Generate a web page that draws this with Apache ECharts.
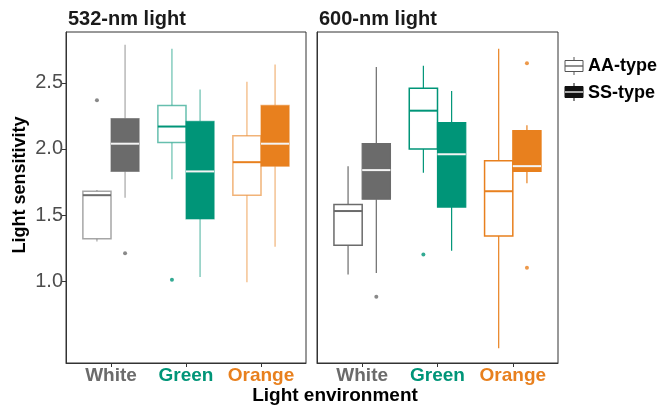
<!DOCTYPE html>
<html>
<head>
<meta charset="utf-8">
<script src="https://cdn.jsdelivr.net/npm/echarts@6/dist/echarts.min.js"></script>
<style>
html,body{margin:0;padding:0;background:#fff;}
#c{width:664px;height:406px;}
</style>
</head>
<body>
<div id="c"></div>
<script>
// ---- data ----
const categories = ['White', 'Green', 'Orange'];
const panelTitles = ['532-nm light', '600-nm light'];
const typeNames = ['AA-type', 'SS-type'];
const yTicks = [1.0, 1.5, 2.0, 2.5];
// each row: [min, Q1, median, Q3, max] per category
const aa532 = [[1.30, 1.32, 1.65, 1.68, 1.69], [1.77, 2.05, 2.17, 2.33, 2.76], [0.99, 1.65, 1.90, 2.10, 2.51]];
const ss532 = [[1.63, 1.83, 2.04, 2.23, 2.79], [1.03, 1.47, 1.83, 2.21, 2.45], [1.26, 1.87, 2.04, 2.33, 2.64]];
const aa600 = [[1.05, 1.27, 1.53, 1.58, 1.87], [1.82, 2.00, 2.29, 2.46, 2.63], [0.49, 1.34, 1.68, 1.91, 2.76]];
const ss600 = [[1.06, 1.62, 1.84, 2.04, 2.62], [1.23, 1.56, 1.96, 2.20, 2.44], [1.74, 1.83, 1.87, 2.14, 2.18]];
// outliers: [category index, value]
const aa532Out = [[0, 2.37], [1, 1.01]];
const ss532Out = [[0, 1.21]];
const aa600Out = [[1, 1.20]];
const ss600Out = [[0, 0.88], [2, 2.65], [2, 1.10]];

// ---- styling ----
const colors = ['#6b6b6b', '#009578', '#e8801e'];
const FONT = 'Liberation Sans, Arial, sans-serif';
const DODGE = 0.1875, BOXW = 0.375;

function fade(hex, a) {
  const r = parseInt(hex.slice(1, 3), 16), g = parseInt(hex.slice(3, 5), 16), b = parseInt(hex.slice(5, 7), 16);
  return 'rgba(' + r + ',' + g + ',' + b + ',' + a + ')';
}

function boxSeries(stats, gridIdx, dodge, filled, strokeAlpha) {
  return {
    type: 'custom',
    xAxisIndex: gridIdx, yAxisIndex: gridIdx,
    encode: { x: 0, y: [1, 2, 3, 4, 5] },
    data: stats.map((s, i) => [i + 1].concat(s)),
    renderItem: function (params, api) {
      const ci = api.value(0) - 1;
      const x = api.value(0) + dodge;
      const c = colors[ci];
      const w = api.size([BOXW, 0])[0];
      const pMin = api.coord([x, api.value(1)]);
      const pQ1 = api.coord([x, api.value(2)]);
      const pMed = api.coord([x, api.value(3)]);
      const pQ3 = api.coord([x, api.value(4)]);
      const pMax = api.coord([x, api.value(5)]);
      const cx = pMed[0];
      const line = fade(c, strokeAlpha);
      const children = [
        { type: 'line', shape: { x1: cx, y1: pMax[1], x2: cx, y2: pQ3[1] }, style: { stroke: line, lineWidth: 1.2 } },
        { type: 'line', shape: { x1: cx, y1: pQ1[1], x2: cx, y2: pMin[1] }, style: { stroke: line, lineWidth: 1.2 } },
        { type: 'rect', shape: { x: cx - w / 2, y: pQ3[1], width: w, height: pQ1[1] - pQ3[1] },
          style: filled ? { fill: c, stroke: line, lineWidth: 1.2 } : { fill: '#fff', stroke: line, lineWidth: 1.5 } },
        { type: 'line', shape: { x1: cx - w / 2, y1: pMed[1], x2: cx + w / 2, y2: pMed[1] },
          style: { stroke: filled ? '#f4f4f4' : c, lineWidth: 2 } }
      ];
      return { type: 'group', children: children };
    },
    z: 2
  };
}

function outlierSeries(pts, gridIdx, dodge) {
  return {
    type: 'scatter',
    xAxisIndex: gridIdx, yAxisIndex: gridIdx,
    symbolSize: 4,
    data: pts.map(p => ({ value: [p[0] + 1 + dodge, p[1]], itemStyle: { color: colors[p[0]] } })),
    z: 3
  };
}

const grids = [
  { left: 66, top: 32, width: 240, height: 331 },
  { left: 317, top: 32, width: 241, height: 331 }
];

const rich = {};
categories.forEach((c, i) => { rich['c' + i] = { color: colors[i], fontWeight: 'bold', fontSize: 19, fontFamily: FONT }; });

const xAxes = grids.map((g, i) => ({
  type: 'value', gridIndex: i, min: 0.4, max: 3.6,
  splitLine: { show: false },
  axisLine: { show: true, onZero: false, lineStyle: { color: '#333', width: 1 } },
  axisTick: { show: true, customValues: [1, 2, 3], length: 4, lineStyle: { color: '#333' } },
  axisLabel: {
    customValues: [1, 2, 3], margin: 3,
    formatter: v => '{c' + (Math.round(v) - 1) + '|' + categories[Math.round(v) - 1] + '}',
    rich: rich
  }
}));

const yAxes = grids.map((g, i) => ({
  type: 'value', gridIndex: i, min: 0.379, max: 2.886,
  splitLine: { show: false },
  axisLine: { show: true, lineStyle: { color: '#333', width: 1 } },
  axisTick: { show: i === 0, customValues: yTicks, length: 4, lineStyle: { color: '#333' } },
  axisLabel: {
    show: i === 0, customValues: yTicks, margin: 3,
    formatter: v => v.toFixed(1),
    color: '#4d4d4d', fontSize: 20, fontFamily: FONT
  }
}));

const series = [
  boxSeries(aa532, 0, -DODGE, false, 0.6),
  boxSeries(ss532, 0, DODGE, true, 0.6),
  boxSeries(aa600, 1, -DODGE, false, 1),
  boxSeries(ss600, 1, DODGE, true, 1),
  outlierSeries(aa532Out, 0, -DODGE),
  outlierSeries(ss532Out, 0, DODGE),
  outlierSeries(aa600Out, 1, -DODGE),
  outlierSeries(ss600Out, 1, DODGE)
];

const legendIcon = (y, filled) => ({
  type: 'group', x: 565, y: y,
  children: [
    { type: 'line', shape: { x1: 9, y1: -9, x2: 9, y2: 9 }, style: { stroke: filled ? '#111' : '#555', lineWidth: 1 } },
    { type: 'rect', shape: { x: 0, y: -5.5, width: 18, height: 11 }, style: { fill: filled ? '#111' : '#fff', stroke: filled ? '#111' : '#555', lineWidth: 1 } },
    { type: 'line', shape: { x1: 0, y1: 0, x2: 18, y2: 0 }, style: { stroke: filled ? '#fff' : '#555', lineWidth: 1.3 } }
  ]
});

const chart = echarts.init(document.getElementById('c'), null, { renderer: 'canvas' });
chart.setOption({
  animation: false,
  backgroundColor: '#fff',
  grid: grids.map(g => Object.assign({ show: true, borderColor: '#333', borderWidth: 1, backgroundColor: '#fff' }, g)),
  xAxis: xAxes,
  yAxis: yAxes,
  series: series,
  graphic: [
    { type: 'text', x: 68, y: 19, style: { text: panelTitles[0], font: 'bold 20px ' + FONT, fill: '#1a1a1a', verticalAlign: 'middle' } },
    { type: 'text', x: 319, y: 19, style: { text: panelTitles[1], font: 'bold 20px ' + FONT, fill: '#1a1a1a', verticalAlign: 'middle' } },
    { type: 'text', x: 20, y: 185, rotation: Math.PI / 2, style: { text: 'Light sensitivity', font: 'bold 18px ' + FONT, fill: '#000', align: 'center', verticalAlign: 'middle' } },
    { type: 'text', x: 335, y: 396, style: { text: 'Light environment', font: 'bold 19px ' + FONT, fill: '#000', align: 'center', verticalAlign: 'middle' } },
    legendIcon(66, false),
    legendIcon(92, true),
    { type: 'text', x: 588, y: 66, style: { text: typeNames[0], font: 'bold 18px ' + FONT, fill: '#000', verticalAlign: 'middle' } },
    { type: 'text', x: 588, y: 93, style: { text: typeNames[1], font: 'bold 18px ' + FONT, fill: '#000', verticalAlign: 'middle' } }
  ]
});
</script>
</body>
</html>
